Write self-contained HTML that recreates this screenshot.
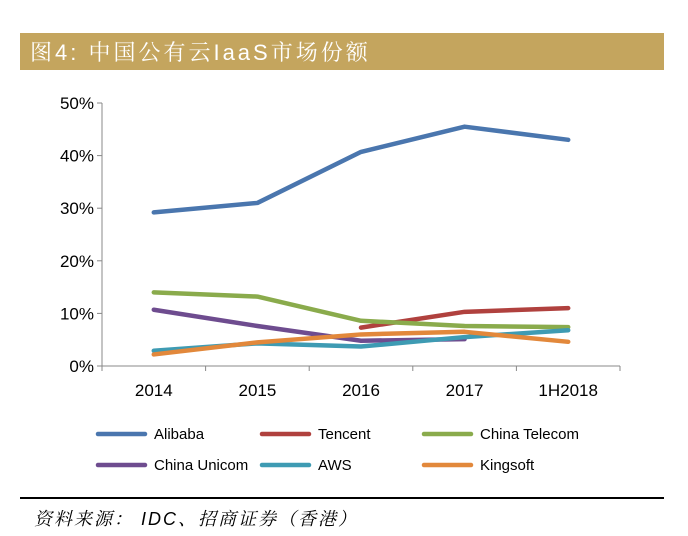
<!DOCTYPE html>
<html><head><meta charset="utf-8"><style>
body{margin:0;background:#fff;width:688px;height:536px;overflow:hidden;font-family:"Liberation Sans","Noto Sans CJK SC",sans-serif}
</style></head><body>
<div style="position:absolute;left:20px;top:33px;width:644px;height:37px;background:#C4A55E"></div>
<div style="position:absolute;left:30px;top:36px;color:#fff;font-size:22px;letter-spacing:3px;font-family:'Liberation Sans','Noto Serif CJK SC',serif">图4: 中国公有云IaaS市场份额</div>
<svg id="chart" width="688" height="536" style="position:absolute;left:0;top:0"></svg>
<div style="position:absolute;left:20px;top:497px;width:644px;height:1.5px;background:#000"></div>
<div style="position:absolute;left:34px;top:505px;font-size:18px;letter-spacing:2px;font-style:italic;font-family:'Liberation Sans','Noto Serif CJK SC',serif">资料来源： IDC、招商证券（香港）</div>
<script>
const categories=["2014","2015","2016","2017","1H2018"];
const yTicks=[0,10,20,30,40,50];
const alibaba=[29.2,31.0,40.7,45.5,43.0];
const tencent=[null,null,7.3,10.3,11.0];
const chinaTelecom=[14.0,13.2,8.6,7.6,7.4];
const chinaUnicom=[10.7,7.6,4.8,5.1,null];
const aws=[2.9,4.3,3.7,5.5,6.8];
const kingsoft=[2.2,4.5,6.0,6.5,4.6];
const seriesNames=["Alibaba","Tencent","China Telecom","China Unicom","AWS","Kingsoft"];
const seriesData=[alibaba,tencent,chinaTelecom,chinaUnicom,aws,kingsoft];
const colors=["#4A76AE","#B0413E","#8AAB4C","#6E4C8F","#3E9BB3","#E2883B"];
const svg=document.getElementById('chart');const NS="http://www.w3.org/2000/svg";
const x0=102,x1=620,y0=366,y1=103;
const bw=(x1-x0)/categories.length;
const xs=i=>x0+bw*(i+0.5);
const ys=v=>y0-(v/50)*(y0-y1);
function mk(t,a){const e=document.createElementNS(NS,t);for(const k in a)e.setAttribute(k,a[k]);svg.appendChild(e);return e;}
let e=mk('line',{x1:x0,y1:y1,x2:x0,y2:y0,stroke:'#888','stroke-width':1});

e=mk('line',{x1:x0,y1:y0,x2:x1,y2:y0,stroke:'#888','stroke-width':1});

yTicks.forEach(v=>{mk('line',{x1:x0-5,y1:ys(v),x2:x0,y2:ys(v),stroke:'#888'});
 const t=mk('text',{x:x0-8,y:ys(v)+6,'text-anchor':'end','font-size':17,fill:'#000'});t.textContent=v+'%';
 });
for(let i=0;i<=categories.length;i++)mk('line',{x1:x0+bw*i,y1:y0,x2:x0+bw*i,y2:y0+5,stroke:'#888'});
categories.forEach((c,i)=>{const t=mk('text',{x:xs(i),y:y0+30,'text-anchor':'middle','font-size':17});t.textContent=c;
 });
seriesData.forEach((d,s)=>{let p='';let pen=false;d.forEach((v,i)=>{if(v==null){pen=false;return;}p+=(pen?'L':'M')+xs(i)+' '+ys(v)+' ';pen=true;});
 const l=mk('path',{d:p,fill:'none',stroke:colors[s],'stroke-width':4.5,'stroke-linecap':'round','stroke-linejoin':'round'});
 });
const lx=[98,262,424],ly=[434,465];
seriesNames.forEach((n,s)=>{const X=lx[s%3],Y=ly[Math.floor(s/3)];
 const g=mk('line',{x1:X,y1:Y,x2:X+47,y2:Y,stroke:colors[s],'stroke-width':4.5,'stroke-linecap':'round'});
 
 const t=mk('text',{x:X+56,y:Y+5,'font-size':15});t.textContent=n;
 });
</script>
</body></html>
